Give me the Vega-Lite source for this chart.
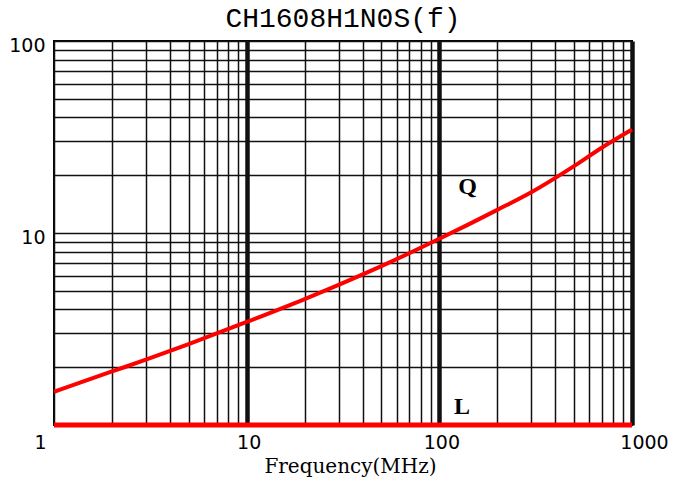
{
  "$schema": "https://vega.github.io/schema/vega-lite/v6.json",
  "autosize": "none",
  "width": 578,
  "height": 384,
  "padding": {"left": 54, "top": 41, "right": 43, "bottom": 61},
  "background": "white",
  "config": {
    "view": {"stroke": "#000", "strokeWidth": 2}
  },
  "title": {
    "text": "CH1608H1N0S(f)",
    "font": "Liberation Mono",
    "fontSize": 28,
    "fontWeight": "normal",
    "color": "#000",
    "anchor": "middle",
    "frame": "group",
    "baseline": "bottom",
    "offset": 7,
    "dy": 32
  },
  "datasets": {
    "q": [
      {"f": 1, "v": 1.49},
      {"f": 2, "v": 1.9},
      {"f": 3, "v": 2.19},
      {"f": 5, "v": 2.64},
      {"f": 10, "v": 3.44},
      {"f": 20, "v": 4.53},
      {"f": 30, "v": 5.37},
      {"f": 50, "v": 6.72},
      {"f": 100, "v": 9.33},
      {"f": 200, "v": 13.2},
      {"f": 300, "v": 16.3},
      {"f": 500, "v": 22.3},
      {"f": 700, "v": 27.9},
      {"f": 1000, "v": 34.6}
    ],
    "l": [
      {"f": 1, "v": 1},
      {"f": 1000, "v": 1}
    ],
    "labels": [
      {"f": 140, "v": 17.4, "t": "Q"},
      {"f": 131, "v": 1.24, "t": "L"}
    ]
  },
  "layer": [
    {
      "data": {"name": "q"},
      "mark": {"type": "line", "color": "#ff0000", "strokeWidth": 4, "interpolate": "monotone", "clip": false},
      "encoding": {
        "x": {
          "field": "f", "type": "quantitative",
          "scale": {"type": "log", "domain": [1, 1000], "nice": false},
          "axis": {
            "values": [1,2,3,4,5,6,7,8,9,10,20,30,40,50,60,70,80,90,100,200,300,400,500,600,700,800,900,1000],
            "labelExpr": "(datum.value==1||datum.value==10||datum.value==100||datum.value==1000) ? ('' + datum.value) : ''",
            "grid": true,
            "gridColor": "#111",
            "gridOpacity": 1,
            "gridWidth": {"condition": {"test": "datum.value==10||datum.value==100||datum.value==1000", "value": 4.5}, "value": 1.5},
            "ticks": false,
            "domain": false,
            "labelFlush": false,
            "labelOverlap": false,
            "labelBound": false,
            "labelOffset": {"condition": [{"test": "datum.value==1", "value": -14}, {"test": "datum.value==1000", "value": 12}], "value": 2},
            "labelFont": "DejaVu Sans",
            "labelFontSize": 19,
            "labelColor": "#000",
            "labelBaseline": "top",
            "labelPadding": 8,
            "title": "Frequency(MHz)",
            "titleFont": "DejaVu Serif",
            "titleFontSize": 20,
            "titleFontWeight": "normal",
            "titleColor": "#000",
            "titleBaseline": "alphabetic",
            "titleAlign": "center",
            "titleAnchor": null,
            "titleX": 296,
            "titleY": 47
          }
        },
        "y": {
          "field": "v", "type": "quantitative",
          "scale": {"type": "log", "domain": [1, 100], "nice": false},
          "axis": {
            "values": [1,2,3,4,5,6,7,8,9,10,20,30,40,50,60,70,80,90,100],
            "labelExpr": "(datum.value==10||datum.value==100) ? ('' + datum.value) : ''",
            "grid": true,
            "gridColor": "#111",
            "gridOpacity": 1,
            "gridWidth": 1.5,
            "ticks": false,
            "domain": false,
            "labelFlush": false,
            "labelOverlap": false,
            "labelBound": false,
            "labelOffset": 4,
            "labelFont": "DejaVu Sans",
            "labelFontSize": 19,
            "labelColor": "#000",
            "labelPadding": 9,
            "title": null
          }
        }
      }
    },
    {
      "data": {"name": "l"},
      "mark": {"type": "line", "color": "#ff0000", "strokeWidth": 5, "clip": false},
      "encoding": {
        "x": {"field": "f", "type": "quantitative"},
        "y": {"field": "v", "type": "quantitative"}
      }
    },
    {
      "data": {"name": "labels"},
      "mark": {"type": "text", "font": "Liberation Serif", "fontSize": 24, "fontWeight": "bold", "color": "#000", "align": "center", "baseline": "middle"},
      "encoding": {
        "x": {"field": "f", "type": "quantitative"},
        "y": {"field": "v", "type": "quantitative"},
        "text": {"field": "t"}
      }
    }
  ]
}
